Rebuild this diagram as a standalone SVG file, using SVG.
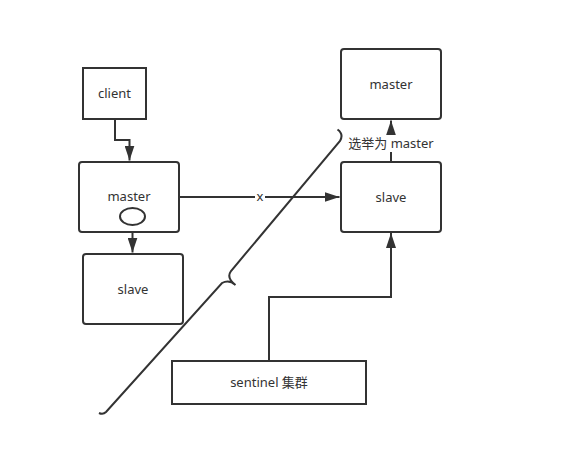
<svg xmlns="http://www.w3.org/2000/svg" width="563" height="465" viewBox="0 0 563 465">
  <style>
    .box { fill: #ffffff; stroke: #333333; stroke-width: 2; }
    .line { fill: none; stroke: #333333; stroke-width: 2; }
    .lbl { font-family: "Noto Sans", "Noto Sans CJK SC", sans-serif; font-size: 13px; fill: #333333; text-anchor: middle; dominant-baseline: central; }
  </style>
  <defs>
    <marker id="arrow" markerWidth="15" markerHeight="10" refX="15" refY="5" viewBox="0 0 15 10" orient="auto" markerUnits="userSpaceOnUse">
      <path d="M0,0 L15,5 L0,10 Z" fill="#333333"/>
    </marker>
  </defs>
  <rect width="563" height="465" fill="#ffffff"/>

  <g id="connectors">
    <path class="line" d="M115,119 V140 H129.5 V160.5" marker-end="url(#arrow)"/>
    <path class="line" d="M132.5,224 V252.5" marker-end="url(#arrow)"/>
    <path class="line" d="M180,197 H339.5" marker-end="url(#arrow)"/>
    <rect x="255" y="190" width="10" height="14" fill="#ffffff"/>
    <text class="lbl" x="260" y="196">x</text>
    <path class="line" d="M391,161 V120.5" marker-end="url(#arrow)"/>
    <path class="line" d="M269,360 V297 H391 V233" marker-end="url(#arrow)"/>
    <rect x="347" y="135" width="88" height="17" fill="#ffffff"/>
    <text class="lbl" x="391" y="142.5">选举为 master</text>
  </g>

  <g id="client">
    <rect class="box" x="83" y="68" width="63" height="51"/>
    <text class="lbl" x="114.5" y="92.5">client</text>
  </g>
  <g id="master-old">
    <rect class="box" x="79" y="162" width="100" height="70" rx="3"/>
    <text class="lbl" x="129" y="196">master</text>
    <ellipse class="box" cx="132.5" cy="216.5" rx="12.5" ry="8.5"/>
  </g>
  <g id="slave-left">
    <rect class="box" x="83" y="254" width="100" height="70" rx="3"/>
    <text class="lbl" x="133" y="288.5">slave</text>
  </g>
  <g id="master-new">
    <rect class="box" x="341" y="49" width="100" height="70" rx="3"/>
    <text class="lbl" x="391" y="83.5">master</text>
  </g>
  <g id="slave-right">
    <rect class="box" x="341" y="162" width="100" height="70" rx="3"/>
    <text class="lbl" x="391" y="196.5">slave</text>
  </g>
  <g id="sentinel">
    <rect class="box" x="172" y="361" width="194" height="43"/>
    <text class="lbl" x="269" y="381.5">sentinel 集群</text>
  </g>

  <g id="brace">
    <path class="line" stroke-width="1.6" d="M337.5,129.5 Q344,134 340,141 L231,271 Q226,278 235.5,285 Q229,279 222,283 L106,412 Q103,415 99,413"/>
  </g>
</svg>
